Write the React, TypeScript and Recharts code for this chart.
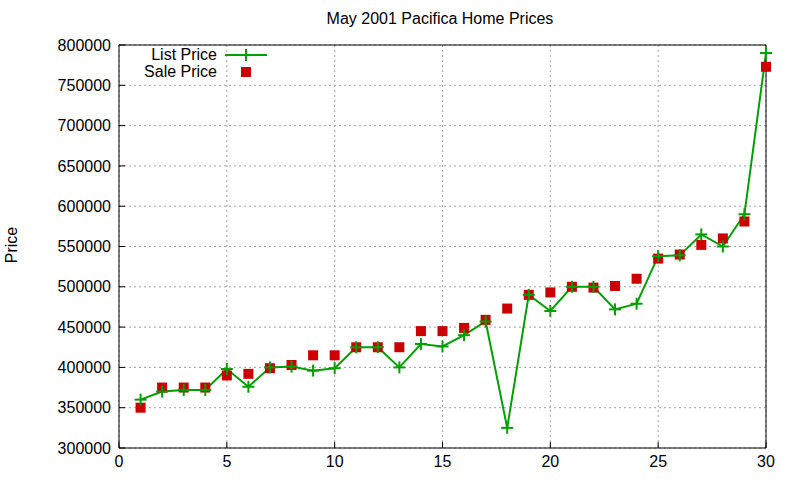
import {
    ComposedChart,
    Line,
    Scatter,
    XAxis,
    YAxis,
    CartesianGrid,
    Legend,
} from 'recharts'

const houses = [1, 2, 3, 4, 5, 6, 7, 8, 9, 10, 11, 12, 13, 14, 15, 16, 17, 18, 19, 20, 21, 22, 23, 24, 25, 26, 27, 28, 29, 30]
const listPrices = [
    360000, 370000, 372000, 372000, 398000, 376000, 400000, 401000, 396000, 399000,
    425000, 425000, 400000, 429000, 426000, 440000, 457000, 325000, 490000, 470000,
    500000, 500000, 472000, 479000, 538000, 539000, 565000, 550000, 590000, 790000,
]
const salePrices = [
    350000, 375000, 375000, 375000, 390000, 392000, 399000, 403000, 415000, 415000,
    425000, 425000, 425000, 445000, 445000, 449000, 459000, 473000, 490000, 493000,
    500000, 499000, 501000, 510000, 535000, 540000, 552000, 560000, 581000, 773000,
]
const xTicks = [0, 5, 10, 15, 20, 25, 30]
const yTicks = [300000, 350000, 400000, 450000, 500000, 550000, 600000, 650000, 700000, 750000, 800000]

const data = houses.map((h, i) => ({ house: h, list: listPrices[i], sale: salePrices[i] }))

const GREEN = '#00a000'
const RED = '#cc0000'
const FONT = '"Liberation Sans", Arial, sans-serif'

const Cross = (props: any) => {
    const { cx, cy } = props
    if (cx == null || cy == null) return null
    return (
        <g stroke={GREEN} strokeWidth={2}>
            <line x1={cx - 6} y1={cy} x2={cx + 6} y2={cy} />
            <line x1={cx} y1={cy - 6} x2={cx} y2={cy + 6} />
        </g>
    )
}

const Square = (props: any) => {
    const { cx, cy } = props
    if (cx == null || cy == null) return null
    return <rect x={cx - 5} y={cy - 5} width={10} height={10} fill={RED} />
}

const LegendBox = () => (
    <svg width={140} height={36} style={{ fontFamily: FONT, fontSize: 16, display: 'block' }}>
        <text x={85} y={13} textAnchor="end" fill="#000">List Price</text>
        <line x1={93} y1={8} x2={135} y2={8} stroke={GREEN} strokeWidth={2} />
        <line x1={114} y1={2} x2={114} y2={14} stroke={GREEN} strokeWidth={2} />
        <text x={85} y={30} textAnchor="end" fill="#000">Sale Price</text>
        <rect x={109} y={20} width={10} height={10} fill={RED} />
    </svg>
)

export default function App() {
    return (
        <div style={{ position: 'absolute', left: 0, top: 0, width: 800, height: 480, background: '#fff', fontFamily: FONT }}>
            <div style={{ position: 'absolute', top: 10, left: 0, width: 880, textAlign: 'center', fontSize: 16 }}>
                May 2001 Pacifica Home Prices
            </div>
            <div style={{ position: 'absolute', left: -8, top: 236, width: 40, textAlign: 'center', fontSize: 16, transform: 'rotate(-90deg)' }}>
                Price
            </div>
            <ComposedChart
                width={800}
                height={480}
                data={data}
                margin={{ top: 0, right: 0, left: 0, bottom: 0 }}
            >
                <CartesianGrid xAxisId="b" yAxisId="l" stroke="#a0a0a0" strokeDasharray="2 3" />
                <XAxis
                    xAxisId="b"
                    dataKey="house"
                    type="number"
                    domain={[0, 30]}
                    ticks={xTicks}
                    orientation="bottom"
                    height={32}
                    tickSize={-6}
                    tickMargin={14}
                    stroke="#000"
                    tick={{ fill: '#000', fontSize: 16 }}
                />
                <XAxis
                    xAxisId="t"
                    dataKey="house"
                    type="number"
                    domain={[0, 30]}
                    ticks={xTicks}
                    orientation="top"
                    height={45}
                    tickSize={-6}
                    tick={false}
                    stroke="#000"
                />
                <YAxis
                    yAxisId="l"
                    type="number"
                    domain={[300000, 800000]}
                    ticks={yTicks}
                    orientation="left"
                    width={119}
                    tickSize={-6}
                    tickMargin={14}
                    stroke="#000"
                    tick={{ fill: '#000', fontSize: 16 }}
                />
                <YAxis
                    yAxisId="r"
                    type="number"
                    domain={[300000, 800000]}
                    ticks={yTicks}
                    orientation="right"
                    width={34}
                    tickSize={-6}
                    tick={false}
                    stroke="#000"
                />
                <Legend
                    content={<LegendBox />}
                    layout="horizontal"
                    verticalAlign="middle"
                    align="center"
                    wrapperStyle={{ position: 'absolute', top: 47, left: 132, width: 140, height: 36 }}
                />
                <Line
                    xAxisId="b"
                    yAxisId="l"
                    dataKey="list"
                    name="List Price"
                    stroke={GREEN}
                    strokeWidth={2}
                    dot={<Cross />}
                    activeDot={false}
                    isAnimationActive={false}
                />
                <Scatter
                    xAxisId="b"
                    yAxisId="l"
                    dataKey="sale"
                    name="Sale Price"
                    shape={<Square />}
                    isAnimationActive={false}
                />
            </ComposedChart>
        </div>
    )
}
